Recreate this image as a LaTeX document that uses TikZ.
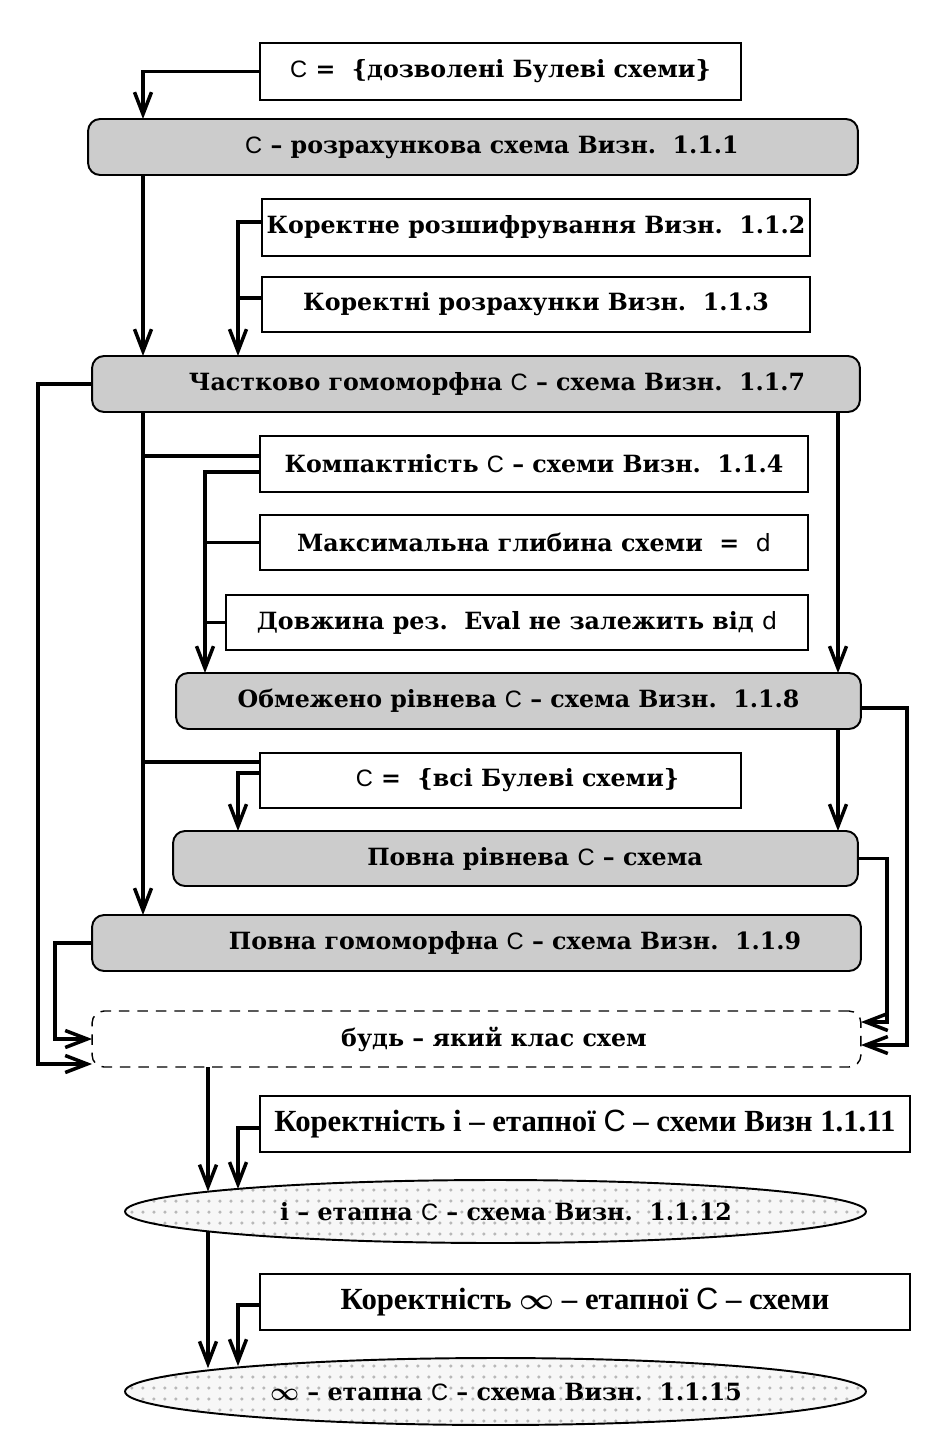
\documentclass[tikz,border=0pt]{standalone}
\usepackage{fontspec}
\setmainfont{DejaVu Serif}
\newfontfamily\timesfont{Liberation Serif}
\newfontfamily\cfont{Liberation Sans}
\newfontfamily\dfont{DejaVu Sans}
\usepackage{amsmath, bm}
\usetikzlibrary{arrows.meta, shapes.geometric, patterns.meta}

\newcommand{\cC}{{\cfont\mdseries C}}
\newcommand{\dd}{{\dfont\mdseries d}}
\newcommand{\infsym}{$\bm{\infty}$}

\begin{document}
\begin{tikzpicture}[x=0.02cm, y=-0.02cm, font=\fontsize{13.5}{16}\selectfont\bfseries, line width=1.1pt,
  box/.style={draw, rectangle, inner sep=0pt, outer sep=0pt},
  defbox/.style={box, fill=black!20, rounded corners=0.24cm},
  anybox/.style={box, rounded corners=0.24cm, line width=0.8pt, dash pattern=on 6pt off 4.5pt},
  stagebox/.style={draw, ellipse, inner sep=0pt, outer sep=0pt, preaction={fill=black!3},
    pattern={Dots[distance=0.22cm, radius=0.035cm]}, pattern color=black!28},
  tbox/.style={box, font=\fontsize{17.5}{20}\selectfont\timesfont\bfseries},
  arr/.style={line width=2pt, -{Straight Barb[length=0.44cm, width=0.34cm]}},
  link/.style={line width=2pt}]
\useasboundingbox (0,0) rectangle (944,1454);

% trunk columns
\coordinate (c1) at (143,0);
\coordinate (c2) at (238,0);
\coordinate (c3) at (205,0);
\coordinate (c4) at (838,0);
\coordinate (o1) at (38,0);
\coordinate (o2) at (55,0);
\coordinate (r1) at (907,0);
\coordinate (r2) at (887,0);
\coordinate (b1) at (208,0);

% boxes
\node[box, minimum width=9.62cm, minimum height=1.14cm] (allow) at (500.5,71.5) {\cC{} =~~\{дозволені Булеві схеми\}};
\node[defbox, minimum width=15.4cm, minimum height=1.12cm] (calc) at (473,147) {\hspace*{0.76cm}\cC{} – розрахункова схема Визн.~~1.1.1};
\node[box, minimum width=10.96cm, minimum height=1.14cm] (dec) at (536,227.5) {Коректне розшифрування Визн.~~1.1.2};
\node[box, minimum width=10.96cm, minimum height=1.1cm] (cnt) at (536,304.5) {Коректні розрахунки Визн.~~1.1.3};
\node[defbox, minimum width=15.36cm, minimum height=1.12cm] (part) at (476,384) {\hspace*{0.84cm}Частково гомоморфна \cC{} – схема Визн.~~1.1.7};
\node[box, minimum width=10.96cm, minimum height=1.12cm] (comp) at (534,464) {Компактність \cC{} – схеми Визн.~~1.1.4};
\node[box, minimum width=10.96cm, minimum height=1.1cm] (depth) at (534,542.5) {Максимальна глибина схеми~~=~~\dd};
\node[box, minimum width=11.64cm, minimum height=1.1cm] (eval) at (517,622.5) {Довжина рез.~~Eval не залежить від \dd};
\node[defbox, minimum width=13.7cm, minimum height=1.12cm] (bound) at (518.5,701) {Обмежено рівнева \cC{} – схема Визн.~~1.1.8};
\node[box, minimum width=9.62cm, minimum height=1.1cm] (allall) at (500.5,780.5) {\hspace*{0.68cm}\cC{} =~~\{всі Булеві схеми\}};
\node[defbox, minimum width=13.7cm, minimum height=1.1cm] (lvl) at (515.5,858.5) {\hspace*{0.78cm}Повна рівнева \cC{} – схема};
\node[defbox, minimum width=15.38cm, minimum height=1.12cm] (full) at (476.5,943) {\hspace*{1.54cm}Повна гомоморфна \cC{} – схема Визн.~~1.1.9};
\node[anybox, minimum width=15.38cm, minimum height=1.12cm] (any) at (476.5,1039) {\hspace*{0.7cm}будь – який клас схем};
\node[tbox, minimum width=13cm, minimum height=1.12cm] (cori) at (585,1124) {Коректність i – етапної \cC{} – схеми Визн 1.1.11};
\node[stagebox, minimum width=14.82cm, minimum height=1.26cm] (stage) at (495.5,1211.5) {\hspace*{0.42cm}i – етапна \cC{} – схема Визн.~~1.1.12};
\node[tbox, minimum width=13cm, minimum height=1.12cm] (corinf) at (585,1302) {Коректність \infsym{} – етапної \cC{} – схеми};
\node[stagebox, minimum width=14.82cm, minimum height=1.34cm] (inf) at (495.5,1391.5) {\hspace*{0.42cm}\infsym{} – етапна \cC{} – схема Визн.~~1.1.15};

% branch points
\coordinate (decL) at ([yshift=0.11cm]dec.west);
\coordinate (cntL) at ([yshift=0.13cm]cnt.west);
\coordinate (compA) at ([yshift=0.16cm]comp.west);
\coordinate (compB) at ([yshift=-0.16cm]comp.west);
\coordinate (allA) at ([yshift=0.37cm]allall.west);
\coordinate (allB) at ([yshift=0.15cm]allall.west);
\coordinate (boundR) at ([yshift=-0.14cm]bound.east);
\coordinate (anyR1) at ([yshift=-0.12cm]any.east);
\coordinate (anyR2) at ([yshift=0.34cm]any.east);
\coordinate (anyL1) at ([yshift=-0.5cm]any.west);
\coordinate (coriL) at ([yshift=-0.08cm]cori.west);
\coordinate (corinfL) at ([yshift=-0.06cm]corinf.west);

% top part
\draw[arr] (allow.west) -| (c1 |- calc.north);
\draw[arr] (c1 |- calc.south) -- (c1 |- part.north);
\draw[arr] (decL) -| (c2 |- part.north);
\draw[link] (cntL) -- (c2 |- cntL);

% middle part
\draw[arr] (c1 |- part.south) -- (c1 |- full.north);
\draw[link] (c1 |- compA) -- (compA);
\draw[arr] (compB) -| (c3 |- bound.north);
\draw[link] (depth.west) -- (c3 |- depth.west);
\draw[link] (eval.west) -- (c3 |- eval.west);
\draw[arr] (c4 |- part.south) -- (c4 |- bound.north);
\draw[arr] (c4 |- bound.south) -- (c4 |- lvl.north);
\draw[link] (c1 |- allA) -- (allA);
\draw[arr] (allB) -| (c2 |- lvl.north);

% into the dashed box
\draw[arr] (part.west) -| (o1 |- anyL1) -- (anyL1);
\draw[arr] (full.west) -| (o2 |- any.west) -- (any.west);
\draw[arr] (boundR) -| (r1 |- anyR1) -- (anyR1);
\draw[arr] (lvl.east) -| (r2 |- anyR2) -- (anyR2);

% bottom part
\draw[arr] (b1 |- any.south) -- (stage.176 -| b1);
\draw[arr] (coriL) -| (stage.175 -| c2);
\draw[arr] (stage.184 -| b1) -- (inf.175.8 -| b1);
\draw[arr] (corinfL) -| (inf.174.7 -| c2);
\end{tikzpicture}
\end{document}
